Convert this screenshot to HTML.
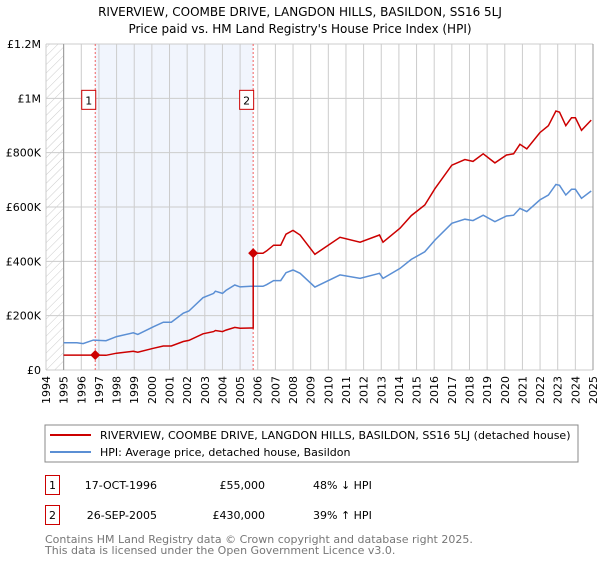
<!DOCTYPE html>
<html><head><meta charset="utf-8"><style>
body{margin:0;background:#fff;font-family:"DejaVu Sans","Liberation Sans",sans-serif;}
svg text{font-family:"DejaVu Sans","Liberation Sans",sans-serif;}
</style></head><body>
<svg id="chart" width="600" height="560" xmlns="http://www.w3.org/2000/svg">
<defs><pattern id="hatch" width="6" height="6" patternUnits="userSpaceOnUse" patternTransform="rotate(45)"><line x1="0" y1="0" x2="0" y2="6" stroke="#ccc" stroke-width="1"/></pattern></defs>
<text x="300" y="16" text-anchor="middle" font-size="12" fill="#000">RIVERVIEW, COOMBE DRIVE, LANGDON HILLS, BASILDON, SS16 5LJ</text>
<text x="300" y="33" text-anchor="middle" font-size="12" fill="#000">Price paid vs. HM Land Registry's House Price Index (HPI)</text>
<g id="plot"></g>
<g>
<rect x="45" y="425" width="533" height="37" fill="#fff" stroke="#888"/>
<line x1="50" y1="435" x2="91" y2="435" stroke="#cc0000" stroke-width="2"/>
<text x="100" y="439" font-size="11">RIVERVIEW, COOMBE DRIVE, LANGDON HILLS, BASILDON, SS16 5LJ (detached house)</text>
<line x1="50" y1="452" x2="91" y2="452" stroke="#5b8fd4" stroke-width="2"/>
<text x="100" y="456" font-size="11">HPI: Average price, detached house, Basildon</text>
</g>
<g>
<rect x="45.5" y="475.5" width="14" height="19" fill="#fff" stroke="#cc0000"/>
<text x="52.5" y="489" text-anchor="middle" font-size="11">1</text>
<text x="157" y="489" text-anchor="end" font-size="11">17-OCT-1996</text>
<text x="265" y="489" text-anchor="end" font-size="11">£55,000</text>
<text x="313" y="489" font-size="11">48% ↓ HPI</text>
<rect x="45.5" y="505.5" width="14" height="19" fill="#fff" stroke="#cc0000"/>
<text x="52.5" y="519" text-anchor="middle" font-size="11">2</text>
<text x="157" y="519" text-anchor="end" font-size="11">26-SEP-2005</text>
<text x="265" y="519" text-anchor="end" font-size="11">£430,000</text>
<text x="313" y="519" font-size="11">39% ↑ HPI</text>
</g>
<text x="45" y="543" font-size="11" fill="#777">Contains HM Land Registry data © Crown copyright and database right 2025.</text>
<text x="45" y="554" font-size="11" fill="#777">This data is licensed under the Open Government Licence v3.0.</text>
</svg>
<script>
const yearTicks=[1994,1995,1996,1997,1998,1999,2000,2001,2002,2003,2004,2005,2006,2007,2008,2009,2010,2011,2012,2013,2014,2015,2016,2017,2018,2019,2020,2021,2022,2023,2024,2025];
const yTicks=[0,200000,400000,600000,800000,1000000,1200000];
const yTickLabels=["£0","£200K","£400K","£600K","£800K","£1M","£1.2M"];
const hpiYears=[1995,1995.75,1996.1,1996.68,1997.4,1998,1998.95,1999.2,2000.08,2000.65,2001.1,2001.78,2002.1,2002.9,2003.5,2003.6,2004,2004.2,2004.7,2005,2005.6,2006.3,2006.5,2006.9,2007.3,2007.6,2008,2008.4,2009.24,2010.66,2011.8,2012.9,2013.1,2014.06,2014.7,2015.47,2016.04,2017,2017.74,2018.2,2018.78,2019.44,2020.1,2020.5,2020.86,2021.25,2021.99,2022.47,2022.9,2023.1,2023.46,2023.78,2024,2024.35,2024.9];
const hpiValues=[100000,100000,97000,110000,108000,123000,137000,131000,159000,176000,176000,209000,217000,266000,282000,290000,282000,293000,313000,306000,308000,308000,314000,329000,329000,358000,368000,356000,305000,350000,337000,356000,337000,374000,407000,435000,478000,540000,555000,550000,570000,546000,567000,570000,595000,583000,626000,644000,683000,680000,644000,665000,665000,632000,659000];
const saleYears=[1996.79,2005.74];
const salePrices=[55000,430000];

const NS="http://www.w3.org/2000/svg";
const X0=46,X1=593,Y0=370,Y1=44;
const xs=y=>X0+(y-1994)/(2025-1994)*(X1-X0);
const ys=v=>Y0-v/1200000*(Y0-Y1);
const g=document.getElementById('plot');
function mk(tag,attrs,parent){const e=document.createElementNS(NS,tag);for(const k in attrs)e.setAttribute(k,attrs[k]);(parent||g).appendChild(e);return e;}
function hpiAt(t){if(t<=hpiYears[0])return hpiValues[0];for(let i=1;i<hpiYears.length;i++){if(t<=hpiYears[i]){const f=(t-hpiYears[i-1])/(hpiYears[i]-hpiYears[i-1]);return hpiValues[i-1]+f*(hpiValues[i]-hpiValues[i-1]);}}return hpiValues[hpiValues.length-1];}

let e;
e=mk('rect',{x:X0,y:Y1,width:X1-X0,height:Y0-Y1,fill:'#fff'});


e=mk('rect',{x:X0,y:Y1,width:xs(1995)-X0,height:Y0-Y1,fill:'url(#hatch)'});


e=mk('rect',{x:xs(saleYears[0]),y:Y1,width:xs(saleYears[1])-xs(saleYears[0]),height:Y0-Y1,fill:'#eef3fc',opacity:0.8});


yearTicks.forEach(yr=>{
  e=mk('line',{x1:xs(yr),x2:xs(yr),y1:Y1,y2:Y0,stroke:'#ccc','stroke-width':1});
  
  
  const t=mk('text',{x:0,y:0,'font-size':11,'text-anchor':'end',transform:`translate(${xs(yr)+4},${Y0+6}) rotate(-90)`});
  t.textContent=yr;
  
  
});
yTicks.forEach((v,i)=>{
  e=mk('line',{x1:X0,x2:X1,y1:ys(v),y2:ys(v),stroke:'#ccc','stroke-width':1});
  
  
  const t=mk('text',{x:X0-5,y:ys(v)+4,'font-size':11,'text-anchor':'end'});
  t.textContent=yTickLabels[i];
  
  
});
e=mk('line',{x1:xs(1995),x2:xs(1995),y1:Y1,y2:Y0,stroke:'#999'});


e=mk('line',{x1:X1,x2:X1,y1:Y1,y2:Y0,stroke:'#999'});


saleYears.forEach((sy,i)=>{
  e=mk('line',{x1:xs(sy),x2:xs(sy),y1:Y1,y2:Y0,stroke:'#f06060','stroke-dasharray':'2,2'});
  
  
  e=mk('rect',{x:xs(sy)-13.5,y:ys(1000000)-8,width:14,height:19,fill:'#fff',stroke:'#cc0000'});
  
  
  const t=mk('text',{x:xs(sy)-6.5,y:ys(1000000)+6,'font-size':11,'text-anchor':'middle'});
  t.textContent=String(i+1);
  
  
});
// HPI line
let d=hpiYears.map((t,i)=>(i?'L':'M')+xs(t).toFixed(1)+','+ys(hpiValues[i]).toFixed(1)).join(' ');
e=mk('path',{d:d,fill:'none',stroke:'#5b8fd4','stroke-width':1.5});


// property line: sale price indexed by HPI
let pts=[[1995,salePrices[0]],[saleYears[0],salePrices[0]]];
const r1=salePrices[0]/hpiAt(saleYears[0]), r2=salePrices[1]/hpiAt(saleYears[1]);
hpiYears.forEach((t,i)=>{if(t>saleYears[0]&&t<saleYears[1])pts.push([t,hpiValues[i]*r1]);});
pts.push([saleYears[1],hpiAt(saleYears[1])*r1]);
pts.push([saleYears[1],salePrices[1]]);
hpiYears.forEach((t,i)=>{if(t>saleYears[1])pts.push([t,hpiValues[i]*r2]);});
d=pts.map((p,i)=>(i?'L':'M')+xs(p[0]).toFixed(1)+','+ys(p[1]).toFixed(1)).join(' ');
e=mk('path',{d:d,fill:'none',stroke:'#cc0000','stroke-width':1.5});


saleYears.forEach((sy,i)=>{
  const cx=xs(sy),cy=ys(salePrices[i]);
  e=mk('path',{d:`M${cx},${cy-5} L${cx+5},${cy} L${cx},${cy+5} L${cx-5},${cy} Z`,fill:'#cc0000'});
  
  
});
</script>
</body></html>
